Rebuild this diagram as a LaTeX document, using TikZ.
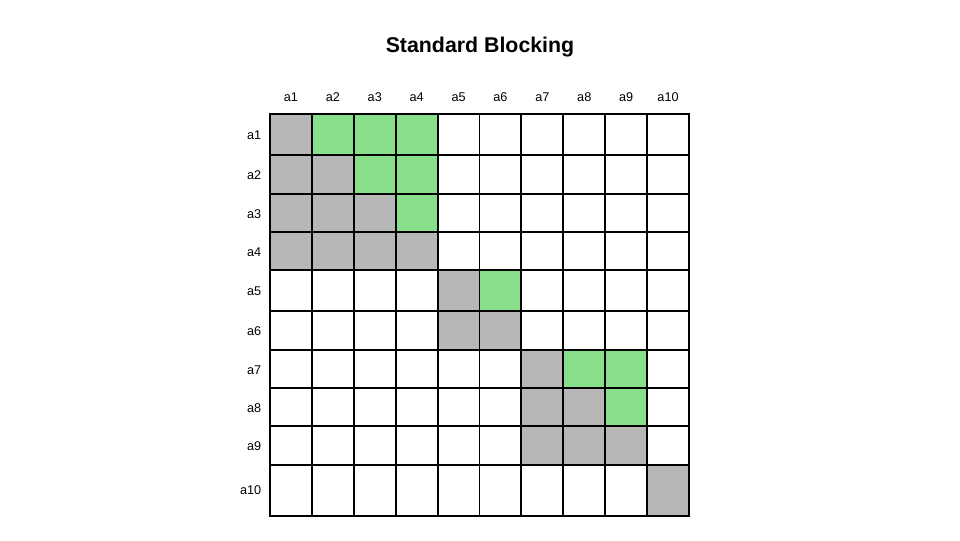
\documentclass[tikz,border=0pt]{standalone}
\usepackage{fontspec}
\setmainfont{Liberation Sans}
\definecolor{blockgray}{RGB}{183,183,183}
\definecolor{pairgreen}{RGB}{135,223,139}
\tikzset{cell/.style={draw=black, line width=1.4pt},
         lab/.style={font=\fontsize{9.5}{11}\selectfont}}

\begin{document}
\begin{tikzpicture}[x=0.75pt,y=-0.75pt]
\useasboundingbox (0,0) rectangle (960,540);

  	\def\d{41.9};
 \def\ox{270};

	%title
 \node[font=\fontsize{16}{19}\selectfont\bfseries] (title) at (480,47) {Standard Blocking};

	%draw index
    \foreach \i/\name in {0/a1,1/a2,2/a3,3/a4,4/a5,5/a6,6/a7,7/a8,8/a9,9/a10}{
           \node[lab] (c\i) at (\ox+\i*\d+\d/2, 97) {\name};
    }

%blocks
 \def\top{114};
 \def\bot{155};
    \foreach \i/\c in {0/blockgray,1/pairgreen,2/pairgreen,3/pairgreen,4/white,5/white,6/white,7/white,8/white,9/white}{
         \draw[cell, fill=\c] (\ox+\i*\d, \top) rectangle (\ox+\i*\d+\d, \bot);
    }
 \node[lab, anchor=east] (r1) at (266, {(\top+\bot)/2+1}) {a1};

 \def\top{155};
 \def\bot{194};
    \foreach \i/\c in {0/blockgray,1/blockgray,2/pairgreen,3/pairgreen,4/white,5/white,6/white,7/white,8/white,9/white}{
         \draw[cell, fill=\c] (\ox+\i*\d, \top) rectangle (\ox+\i*\d+\d, \bot);
    }
 \node[lab, anchor=east] (r2) at (266, {(\top+\bot)/2+1}) {a2};

 \def\top{194};
 \def\bot{232};
    \foreach \i/\c in {0/blockgray,1/blockgray,2/blockgray,3/pairgreen,4/white,5/white,6/white,7/white,8/white,9/white}{
         \draw[cell, fill=\c] (\ox+\i*\d, \top) rectangle (\ox+\i*\d+\d, \bot);
    }
 \node[lab, anchor=east] (r3) at (266, {(\top+\bot)/2+1}) {a3};

 \def\top{232};
 \def\bot{270};
    \foreach \i/\c in {0/blockgray,1/blockgray,2/blockgray,3/blockgray,4/white,5/white,6/white,7/white,8/white,9/white}{
         \draw[cell, fill=\c] (\ox+\i*\d, \top) rectangle (\ox+\i*\d+\d, \bot);
    }
 \node[lab, anchor=east] (r4) at (266, {(\top+\bot)/2+1}) {a4};

 \def\top{270};
 \def\bot{311};
    \foreach \i/\c in {0/white,1/white,2/white,3/white,4/blockgray,5/pairgreen,6/white,7/white,8/white,9/white}{
         \draw[cell, fill=\c] (\ox+\i*\d, \top) rectangle (\ox+\i*\d+\d, \bot);
    }
 \node[lab, anchor=east] (r5) at (266, {(\top+\bot)/2+1}) {a5};

 \def\top{311};
 \def\bot{350};
    \foreach \i/\c in {0/white,1/white,2/white,3/white,4/blockgray,5/blockgray,6/white,7/white,8/white,9/white}{
         \draw[cell, fill=\c] (\ox+\i*\d, \top) rectangle (\ox+\i*\d+\d, \bot);
    }
 \node[lab, anchor=east] (r6) at (266, {(\top+\bot)/2+1}) {a6};

 \def\top{350};
 \def\bot{388};
    \foreach \i/\c in {0/white,1/white,2/white,3/white,4/white,5/white,6/blockgray,7/pairgreen,8/pairgreen,9/white}{
         \draw[cell, fill=\c] (\ox+\i*\d, \top) rectangle (\ox+\i*\d+\d, \bot);
    }
 \node[lab, anchor=east] (r7) at (266, {(\top+\bot)/2+1}) {a7};

 \def\top{388};
 \def\bot{426};
    \foreach \i/\c in {0/white,1/white,2/white,3/white,4/white,5/white,6/blockgray,7/blockgray,8/pairgreen,9/white}{
         \draw[cell, fill=\c] (\ox+\i*\d, \top) rectangle (\ox+\i*\d+\d, \bot);
    }
 \node[lab, anchor=east] (r8) at (266, {(\top+\bot)/2+1}) {a8};

 \def\top{426};
 \def\bot{465};
    \foreach \i/\c in {0/white,1/white,2/white,3/white,4/white,5/white,6/blockgray,7/blockgray,8/blockgray,9/white}{
         \draw[cell, fill=\c] (\ox+\i*\d, \top) rectangle (\ox+\i*\d+\d, \bot);
    }
 \node[lab, anchor=east] (r9) at (266, {(\top+\bot)/2+1}) {a9};

 \def\top{465};
 \def\bot{516};
    \foreach \i/\c in {0/white,1/white,2/white,3/white,4/white,5/white,6/white,7/white,8/white,9/blockgray}{
         \draw[cell, fill=\c] (\ox+\i*\d, \top) rectangle (\ox+\i*\d+\d, \bot);
    }
 \node[lab, anchor=east] (r10) at (266, {(\top+\bot)/2}) {a10};

\end{tikzpicture}
\end{document}
